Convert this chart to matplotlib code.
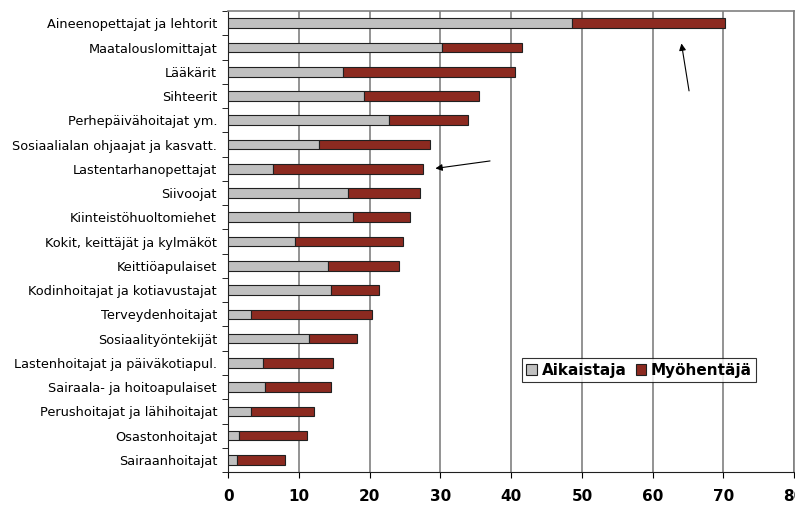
import numpy as np
import matplotlib
matplotlib.use('Agg')
import matplotlib.pyplot as plt

# ammattiryhmät, ylhäältä alas
ammatit = [
    'Aineenopettajat ja lehtorit',
    'Maatalouslomittajat',
    'Lääkärit',
    'Sihteerit',
    'Perhepäivähoitajat ym.',
    'Sosiaalialan ohjaajat ja kasvatt.',
    'Lastentarhanopettajat',
    'Siivoojat',
    'Kiinteistöhuoltomiehet',
    'Kokit, keittäjät ja kylmäköt',
    'Keittiöapulaiset',
    'Kodinhoitajat ja kotiavustajat',
    'Terveydenhoitajat',
    'Sosiaalityöntekijät',
    'Lastenhoitajat ja päiväkotiapul.',
    'Sairaala- ja hoitoapulaiset',
    'Perushoitajat ja lähihoitajat',
    'Osastonhoitajat',
    'Sairaanhoitajat',
]
aikaistaja = [48.6, 30.2, 16.2, 19.2, 22.7, 12.9, 6.4, 16.9, 17.6, 9.5,
              14.1, 14.5, 3.2, 11.4, 4.9, 5.2, 3.2, 1.5, 1.2]
myohentaja = [21.6, 11.3, 24.3, 16.3, 11.2, 15.6, 21.1, 10.2, 8.1, 15.2,
              10.0, 6.8, 17.1, 6.8, 9.9, 9.3, 8.9, 9.7, 6.9]

fig = plt.figure(figsize=(7.95, 5.07), dpi=100)
ax = fig.add_axes([0.287, 0.069, 0.712, 0.909])

y = np.arange(len(ammatit))
ax.barh(y, aikaistaja, height=0.4, color='#c0c0c0', edgecolor='#202020',
        linewidth=0.8, label='Aikaistaja', zorder=3)
ax.barh(y, myohentaja, left=aikaistaja, height=0.4, color='#8c2a20',
        edgecolor='#202020', linewidth=0.8, label='Myöhentäjä', zorder=3)

ax.set_xlim(0, 80)
ax.set_ylim(len(ammatit) - 0.5, -0.5)
ax.set_xticks(np.arange(0, 81, 10))
ax.tick_params(axis='x', labelsize=11, pad=8, length=4, direction='out')
for lbl in ax.get_xticklabels():
    lbl.set_fontweight('bold')
ax.set_yticks(y)
ax.set_yticklabels(ammatit, fontsize=9.3)
ax.tick_params(axis='y', length=0, pad=8)
ax.set_yticks(np.arange(-0.5, len(ammatit), 1), minor=True)
ax.tick_params(axis='y', which='minor', length=4, direction='out')
ax.xaxis.grid(True, color='#808080', linewidth=1.2, zorder=0)

for s in ['top', 'right']:
    ax.spines[s].set_color('#808080')
    ax.spines[s].set_linewidth(1.2)
for s in ['left', 'bottom']:
    ax.spines[s].set_color('#202020')

ax.annotate('', xy=(64.0, 0.72), xytext=(65.2, 2.9),
            arrowprops=dict(arrowstyle='-|>', color='black', lw=0.8))
ax.annotate('', xy=(28.9, 6.0), xytext=(37.4, 5.66),
            arrowprops=dict(arrowstyle='-|>', color='black', lw=0.8))

leg = ax.legend(loc='center', bbox_to_anchor=(0.726, 0.221), ncol=2,
                prop={'weight': 'bold', 'size': 11}, frameon=True,
                fancybox=False, handlelength=0.7, handleheight=0.7,
                handletextpad=0.3, columnspacing=0.6, borderpad=0.3,
                borderaxespad=0)
leg.get_frame().set_edgecolor('black')
leg.get_frame().set_linewidth(0.8)

fig.savefig('out.png', dpi=100)
